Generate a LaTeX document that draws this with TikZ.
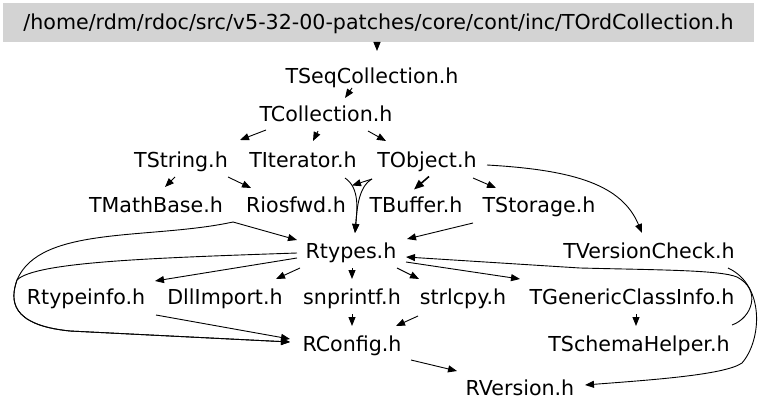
\documentclass[tikz,border=0pt]{standalone}
\usepackage{fontspec}
\setmainfont{DejaVu Sans}
\usetikzlibrary{arrows.meta,calc}
\definecolor{boxgray}{HTML}{D3D3D3}
\begin{document}
\begin{tikzpicture}[x=1pt,y=-1pt,
  file/.style={inner sep=0pt, text height=15pt, text depth=0pt, font=\fontsize{20.6}{24}\selectfont},
  edge/.style={draw=black, line width=0.9pt, -{Triangle[length=9pt,width=7pt]}},
  thickedge/.style={draw=black, line width=1.6pt, -{Triangle[length=10pt,width=8pt]}}
]
\useasboundingbox (0,0) rectangle (768,412);
% nodes
\node[file, fill=boxgray, minimum width=751pt, minimum height=39pt] (top) at (378.5,22.5) {/home/rdm/rdoc/src/v5-32-00-patches/core/cont/inc/TOrdCollection.h};
\node[file] (TSeq) at (372,75.5) {TSeqCollection.h};
\node[file] (TColl) at (326,113.5) {TCollection.h};
\node[file] (TString) at (181,159.5) {TString.h};
\node[file] (TIter) at (303,159.5) {TIterator.h};
\node[file] (TObject) at (427,159.5) {TObject.h};
\node[file] (TMath) at (156,204.5) {TMathBase.h};
\node[file] (Riosfwd) at (296,204.5) {Riosfwd.h};
\node[file] (TBuffer) at (416,204.5) {TBuffer.h};
\node[file] (TStorage) at (539,204.5) {TStorage.h};
\node[file] (Rtypes) at (351,250.5) {Rtypes.h};
\node[file] (TVC) at (649,250.5) {TVersionCheck.h};
\node[file] (Rtypeinfo) at (86,296.5) {Rtypeinfo.h};
\node[file] (DllImport) at (225,296.5) {DllImport.h};
\node[file] (snprintf) at (352,296.5) {snprintf.h};
\node[file] (strlcpy) at (463,296.5) {strlcpy.h};
\node[file] (TGCI) at (632,296.5) {TGenericClassInfo.h};
\node[file] (RConfig) at (352,343.5) {RConfig.h};
\node[file] (TSH) at (639,343.5) {TSchemaHelper.h};
\node[file] (RVersion) at (520,387.5) {RVersion.h};
% edges
\draw[edge] ($(top)+(-1.5,19.5)$) -- ($(TSeq)+(5,-24.5)$);
\draw[edge] ($(TSeq)+(-20,12.5)$) -- ($(TColl)+(19,-15.5)$);
\draw[edge] ($(TColl)+(-60,16.5)$) -- ($(TString)+(59,-19.5)$);
\draw[edge] ($(TColl)+(-8,17.5)$) -- ($(TIter)+(10,-18.5)$);
\draw[edge] ($(TColl)+(42,17.5)$) -- ($(TObject)+(-41,-18.5)$);
\draw[edge] ($(TString)+(-6,17.5)$) -- ($(TMath)+(9,-17.5)$);
\draw[edge] ($(TString)+(47,17.5)$) -- ($(Riosfwd)+(-45,-16.5)$);
\draw[edge] ($(TIter)+(42,18.5)$) .. controls (360,188) and (357,210) .. ($(Rtypes)+(4,-17.5)$);
\draw[edge] ($(TObject)+(-55,19.5)$) .. controls (358,187) and (357,210) .. ($(Rtypes)+(4,-17.5)$);
\draw[edge] ($(TObject)+(-55,19.5)$) -- ($(Riosfwd)+(56,-19)$);
\draw[thickedge] ($(TObject)+(2,17)$) -- ($(TBuffer)+(-2,-15)$);
\draw[edge] ($(TObject)+(46,18.5)$) -- ($(TStorage)+(-43,-16.5)$);
\draw[edge] ($(TObject)+(60,5.5)$) .. controls (575,170) and (622,185) .. ($(TVC)+(-7,-17.5)$);
\draw[edge] ($(TStorage)+(-66,18.5)$) -- ($(Rtypes)+(56,-11.5)$);
\draw[edge] ($(TMath)+(77,17.5)$) -- ($(Rtypes)+(-54,-10.5)$);
\draw[edge] ($(TMath)+(77,17.5)$) .. controls (150,240) and (40,225) .. (17,280)
   .. controls (10,300) and (10,325) .. (70,331) -- ($(RConfig)+(-62,-1.5)$);
\draw[edge] ($(Rtypes)+(-54,2.5)$) .. controls (150,258) and (35,262) .. (17,280)
   .. controls (10,300) and (10,325) .. (70,331) -- ($(RConfig)+(-62,-1.5)$);
\draw[edge] ($(Rtypes)+(-54,7.5)$) -- ($(Rtypeinfo)+(69,-15.5)$);
\draw[edge] ($(Rtypes)+(-51,17.5)$) -- ($(DllImport)+(51,-17.5)$);
\draw[edge] ($(Rtypes)+(1,17.5)$) -- ($(snprintf)+(0,-17.5)$);
\draw[edge] ($(Rtypes)+(46,17.5)$) -- ($(strlcpy)+(-44,-17.5)$);
\draw[edge] ($(Rtypes)+(55,11.5)$) -- ($(TGCI)+(-112,-17.5)$);
\draw[edge] ($(TSH)+(93,-18.5)$) .. controls (752,318) and (762,290) .. (737,277)
   .. controls (720,270) and (660,270) .. (580,268) -- ($(Rtypes)+(55,6.5)$);
\draw[edge] ($(TVC)+(79,17.5)$) .. controls (765,285) and (762,340) .. (742,363)
   .. controls (725,375) and (650,380) .. ($(RVersion)+(65,-2.5)$);
\draw[edge] ($(TGCI)+(4,17.5)$) -- ($(TSH)+(-3,-17.5)$);
\draw[edge] ($(strlcpy)+(-45,19.5)$) -- ($(RConfig)+(44,-17.5)$);
\draw[edge] ($(snprintf)+(0,17.5)$) -- ($(RConfig)+(0,-17.5)$);
\draw[edge] ($(Rtypeinfo)+(70,18.5)$) -- ($(RConfig)+(-62,-4.5)$);
\draw[edge] ($(RConfig)+(59,16.5)$) -- ($(RVersion)+(-63,-16.5)$);
\end{tikzpicture}
\end{document}
